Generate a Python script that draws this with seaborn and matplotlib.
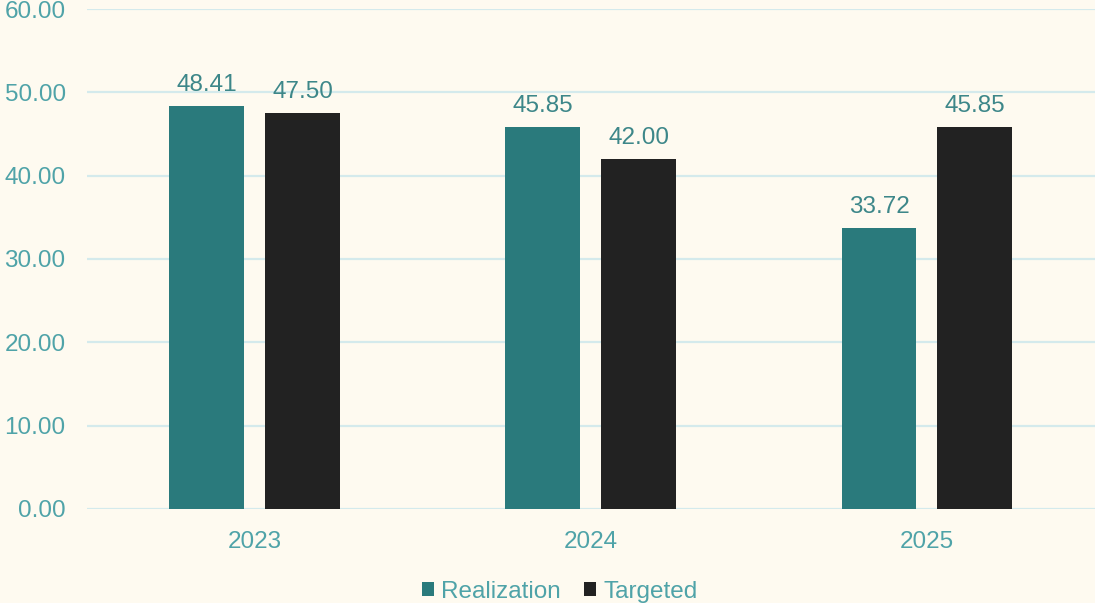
import pandas as pd
import matplotlib.pyplot as plt
import seaborn as sns

years = ["2023", "2024", "2025"]
realization = [48.41, 45.85, 33.72]
targeted = [47.50, 42.00, 45.85]
series_names = ["Realization", "Targeted"]

df = pd.DataFrame({
    "year": years * 2,
    "value": realization + targeted,
    "series": [series_names[0]] * 3 + [series_names[1]] * 3,
})

bg = "#FEFAF0"
tick_color = "#4FA3A8"
label_color = "#3D8789"
palette = {"Realization": "#2A7A7C", "Targeted": "#222222"}

sns.set_style("white")
plt.rcParams['font.family'] = ['Liberation Sans', 'DejaVu Sans']

fig = plt.figure(figsize=(10.95, 6.03), dpi=100, facecolor=bg)
ax = fig.add_axes([0.079, 0.156, 0.921, 0.829])
ax.set_facecolor(bg)

sns.barplot(
    data=df, x="year", y="value", hue="series",
    palette=palette, width=0.57, gap=0.22,
    linewidth=0, saturation=1, ax=ax, legend=True,
)

# value labels on top of bars
for cont in ax.containers:
    ax.bar_label(cont, fmt="%.2f", padding=7, fontsize=17.5, color=label_color)

ax.set_xlim(-0.5, 2.5)
ax.set_ylim(0, 60)
ax.set_yticks(range(0, 61, 10))
ax.set_yticklabels([f"{v:.2f}" for v in range(0, 61, 10)])
ax.set_xlabel("")
ax.set_ylabel("")
ax.tick_params(axis='y', length=0, pad=15, labelsize=17.5, labelcolor=tick_color)
ax.tick_params(axis='x', length=0, pad=16, labelsize=17.5, labelcolor=tick_color)

ax.yaxis.grid(True, color="#D4EAEC", linewidth=1.6)
ax.set_axisbelow(True)
for s in ax.spines.values():
    s.set_visible(False)

handles, labels = ax.get_legend_handles_labels()
ax.legend_.remove()
leg = fig.legend(
    handles, labels, loc='center', bbox_to_anchor=(0.511, 0.019),
    ncol=2, frameon=False, fontsize=17.5, handlelength=0.5, handleheight=0.5,
    handletextpad=0.3, columnspacing=0.95,
)
for t in leg.get_texts():
    t.set_color(tick_color)

fig.savefig("out.png", dpi=100, facecolor=bg)
